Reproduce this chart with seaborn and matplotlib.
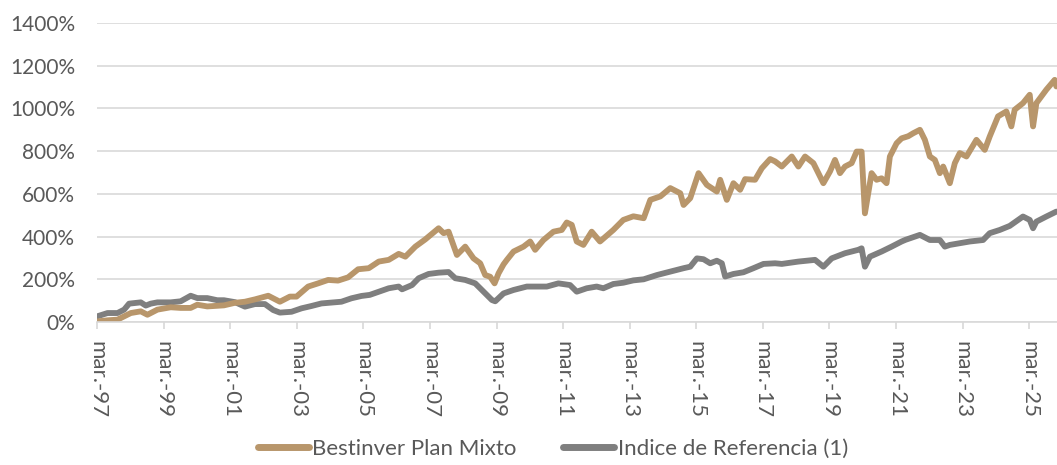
import matplotlib
matplotlib.use("Agg")
import matplotlib.pyplot as plt
import matplotlib.ticker as mticker
import seaborn as sns
import numpy as np
import pandas as pd

# fechas en años decimales, valores en % acumulado
mixto_fechas = [1997.17, 1997.47, 1997.77, 1998.17, 1998.47, 1998.67, 1998.97, 1999.37, 1999.67, 1999.97,
                2000.17, 2000.47, 2000.97, 2001.3, 2001.6, 2001.9, 2002.3, 2002.65, 2002.95, 2003.15,
                2003.5, 2003.8, 2004.1, 2004.4, 2004.7, 2005.0, 2005.32, 2005.62, 2005.92, 2006.22,
                2006.42, 2006.72, 2007.02, 2007.42, 2007.57, 2007.72, 2007.97, 2008.22, 2008.47, 2008.67,
                2008.82, 2008.97, 2009.1, 2009.22, 2009.37, 2009.47, 2009.67, 2009.97, 2010.17, 2010.32,
                2010.57, 2010.87, 2011.12, 2011.27, 2011.42, 2011.57, 2011.77, 2012.02, 2012.27, 2012.67,
                2012.97, 2013.27, 2013.58, 2013.78, 2014.08, 2014.38, 2014.68, 2014.78, 2014.98, 2015.23,
                2015.48, 2015.78, 2015.88, 2016.08, 2016.28, 2016.48, 2016.63, 2016.93, 2017.13, 2017.38,
                2017.53, 2017.73, 2018.03, 2018.23, 2018.43, 2018.68, 2018.83, 2018.98, 2019.18, 2019.33,
                2019.48, 2019.63, 2019.83, 2019.98, 2020.13, 2020.23, 2020.33, 2020.43, 2020.58, 2020.73,
                2020.88, 2020.98, 2021.18, 2021.33, 2021.53, 2021.68, 2021.88, 2022.03, 2022.18, 2022.33,
                2022.48, 2022.58, 2022.78, 2022.93, 2023.08, 2023.28, 2023.58, 2023.83, 2023.98, 2024.23,
                2024.48, 2024.63, 2024.73, 2024.98, 2025.18, 2025.28, 2025.38, 2025.68, 2025.93, 2025.98]
mixto_valores = [3, 8, 11, 42, 50, 34, 58, 69, 66, 66,
                 81, 73, 78, 90, 95, 106, 123, 95, 119, 119,
                 166, 181, 197, 194, 209, 247, 252, 283, 291, 319,
                 306, 353, 387, 439, 416, 423, 314, 353, 298, 275,
                 220, 212, 181, 228, 270, 291, 330, 353, 377, 338,
                 384, 423, 431, 466, 455, 377, 361, 423, 377, 431,
                 478, 495, 486, 572, 588, 627, 603, 548, 580, 697,
                 642, 611, 666, 572, 650, 619, 669, 666, 720, 763,
                 752, 728, 775, 728, 775, 744, 697, 650, 705, 759,
                 697, 728, 744, 798, 798, 509, 603, 697, 666, 673,
                 650, 775, 837, 860, 870, 884, 900, 853, 775, 759,
                 697, 728, 650, 744, 791, 775, 853, 806, 869, 963,
                 986, 916, 994, 1025, 1064, 916, 1025, 1088, 1134, 1103]

ref_fechas = [1997.17, 1997.47, 1997.77, 1997.97, 1998.12, 1998.47, 1998.62, 1998.77, 1998.97, 1999.37,
              1999.67, 1999.97, 2000.17, 2000.47, 2000.77, 2000.97, 2001.3, 2001.6, 2001.9, 2002.2,
              2002.45, 2002.65, 2003.0, 2003.3, 2003.6, 2003.9, 2004.2, 2004.5, 2004.8, 2005.1,
              2005.35, 2005.92, 2006.22, 2006.32, 2006.62, 2006.82, 2007.12, 2007.42, 2007.72, 2007.92,
              2008.22, 2008.52, 2008.72, 2009.02, 2009.12, 2009.37, 2009.67, 2010.07, 2010.37, 2010.67,
              2011.02, 2011.37, 2011.57, 2011.87, 2012.17, 2012.37, 2012.67, 2012.97, 2013.27, 2013.58,
              2013.98, 2014.38, 2014.78, 2014.98, 2015.18, 2015.38, 2015.58, 2015.78, 2015.93, 2016.03,
              2016.28, 2016.58, 2016.88, 2017.18, 2017.53, 2017.73, 2018.23, 2018.73, 2018.98, 2019.23,
              2019.63, 2020.03, 2020.13, 2020.23, 2020.38, 2020.73, 2021.03, 2021.33, 2021.45, 2021.88,
              2022.18, 2022.48, 2022.63, 2022.78, 2023.08, 2023.38, 2023.78, 2023.98, 2024.28, 2024.58,
              2024.98, 2025.18, 2025.28, 2025.38, 2025.68, 2025.98]
ref_valores = [27, 42, 42, 58, 86, 92, 77, 86, 92, 92,
               97, 123, 112, 112, 102, 102, 93, 72, 84, 84,
               56, 44, 48, 64, 75, 87, 91, 95, 111, 122,
               127, 158, 166, 153, 173, 205, 225, 231, 234, 205,
               197, 181, 150, 103, 97, 134, 150, 166, 166, 166,
               181, 173, 142, 158, 166, 158, 178, 184, 195, 200,
               220, 236, 252, 259, 298, 294, 275, 287, 275, 213,
               225, 233, 252, 272, 275, 272, 283, 291, 259, 298,
               322, 338, 345, 259, 306, 330, 353, 377, 385, 408,
               384, 384, 353, 361, 369, 377, 384, 416, 431, 450,
               494, 478, 439, 470, 494, 517]

series = ["Bestinver Plan Mixto", "Indice de Referencia (1)"]
colores = ["#B8966B", "#7F7F7F"]
tick_years = list(range(1997, 2026, 2))


def to_date(y):
    base = pd.Timestamp(int(y), 1, 1)
    return base + pd.Timedelta(days=(y - int(y)) * 365.25)


df = pd.concat([
    pd.DataFrame({"fecha": [to_date(f) for f in mixto_fechas], "valor": mixto_valores, "serie": series[0]}),
    pd.DataFrame({"fecha": [to_date(f) for f in ref_fechas], "valor": ref_valores, "serie": series[1]}),
])

sns.set_theme(style="white")
plt.rcParams['font.family'] = ['Lato', 'DejaVu Sans']

fig = plt.figure(figsize=(10.57, 4.65), dpi=100)
ax = fig.add_axes([0.092, 0.3075, 0.908, 0.643])

sns.lineplot(data=df, x="fecha", y="valor", hue="serie", hue_order=series[::-1],
             palette=dict(zip(series, colores)), estimator=None, sort=True,
             linewidth=4.2, ax=ax, legend=False)

ax.set_ylim(0, 1400)
ax.set_xlim(to_date(1997.17), to_date(2026.0))
ax.yaxis.set_major_locator(mticker.MultipleLocator(200))
ax.yaxis.set_major_formatter(mticker.FuncFormatter(lambda v, p: f"{v:.0f}%"))
ax.grid(axis="y", color="#D9D9D9", linewidth=1.2)
ax.set_axisbelow(True)

ticks = [pd.Timestamp(y, 3, 1) for y in tick_years]
ax.set_xticks(ticks)
ax.set_xticklabels([f"mar.-{str(y)[2:]}" for y in tick_years], rotation=-90)

for s in ["top", "right", "left"]:
    ax.spines[s].set_visible(False)
ax.spines["bottom"].set_color("#D9D9D9")
ax.spines["bottom"].set_linewidth(1.2)
ax.tick_params(axis="x", bottom=True, length=5, color="#D9D9D9", labelcolor="#595959",
               labelsize=16, pad=9)
ax.tick_params(axis="y", left=False, labelcolor="#595959", labelsize=15, pad=10)
ax.set_xlabel("")
ax.set_ylabel("")

handles = [plt.Line2D([], [], color=c, linewidth=5) for c in colores]
fig.legend(handles, series, loc="lower center", bbox_to_anchor=(0.523, -0.03), ncol=2,
           frameon=False, fontsize=16, handlelength=2.3, columnspacing=2.1, handletextpad=0.15,
           labelcolor="#595959")

fig.savefig("out.png", dpi=100)
